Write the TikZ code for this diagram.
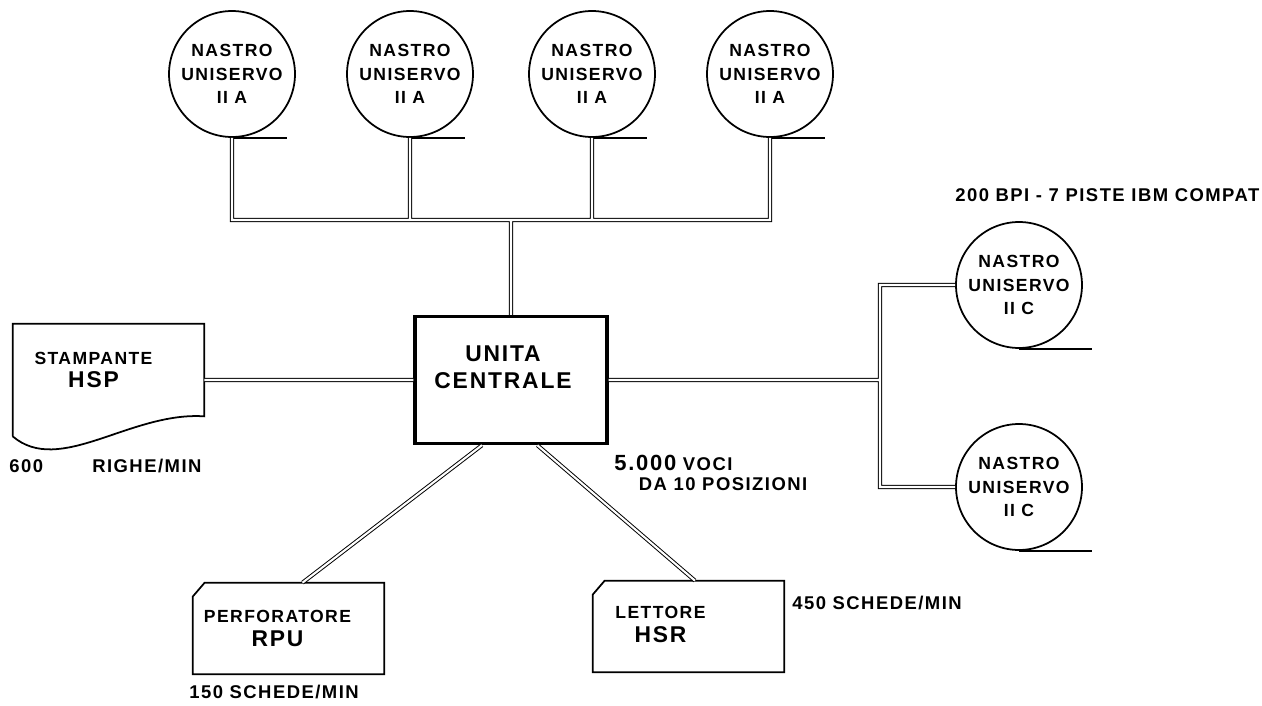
\documentclass[tikz,border=0pt]{standalone}
\usepackage{fontspec}
\setmainfont{Liberation Sans}
\newfontfamily\tagfont[LetterSpace=8]{Liberation Sans}
\newfontfamily\notefont[LetterSpace=8]{Liberation Sans}
\usetikzlibrary{positioning,calc}
\newcommand{\devname}[1]{{\fontsize{13}{15}\selectfont #1}}

\begin{document}
\begin{tikzpicture}[x=0.02cm, y=-0.02cm,
  tape/.style={circle, draw, line width=1pt, minimum size=2.52cm, inner sep=0pt},
  cpubox/.style={draw, line width=2pt, minimum width=3.84cm, minimum height=2.54cm},
  card/.style={minimum width=3.82cm, minimum height=1.82cm, inner sep=0pt},
  printer/.style={minimum width=3.82cm, minimum height=2.24cm, inner sep=0pt},
  tag/.style={font=\tagfont\bfseries\fontsize{10}{13.5}\selectfont, align=center, inner sep=0pt},
  bigtag/.style={font=\tagfont\bfseries\fontsize{13}{15.5}\selectfont, align=center, inner sep=0pt},
  note/.style={font=\notefont\bfseries\fontsize{10.5}{11.5}\selectfont, align=left, inner sep=0pt, anchor=west},
  link/.style={double, double distance=1.2pt, line width=0.55pt},
  reel/.style={line width=1pt}
]
  \useasboundingbox (0,0) rectangle (1262,706);

  % nastri
  \foreach \i/\x in {1/232,2/410,3/592,4/770}{
    \node[tape, tag] (ta\i) at (\x,74) {NASTRO\\UNISERVO\\II A};
    \draw[reel] (ta\i.south) -- ++(55,0);
  }
  \node[tape, tag] (tc1) at (1019,285) {NASTRO\\UNISERVO\\II C};
  \node[tape, tag] (tc2) at (1019,487) {NASTRO\\UNISERVO\\II C};
  \draw[reel] (tc1.south) -- ++(73,0);
  \draw[reel] (tc2.south) -- ++(73,0);

  % unita centrale
  \node[cpubox] (cpu) at (511,380) {};
  \node[bigtag] (cpuT) at ($(cpu)+(-8,-13)$) {UNITA\\CENTRALE};

  % stampante
  \node[printer] (hsp) at (108.5,380) {};
  \draw[reel] (hsp.south west) -- (hsp.north west) -- (hsp.north east) -- ($(hsp.south east)+(0,-20)$)
    .. controls ($(hsp.south east)+(-74,-25)$) and ($(hsp.south west)+(47,40)$) .. (hsp.south west);
  \node[tag] (hspT) at ($(hsp)+(-15,-10)$) {STAMPANTE\\\devname{HSP}};

  % schede
  \node[card] (rpu) at (288.5,628.5) {};
  \node[card] (hsr) at (688.5,626.5) {};
  \foreach \c in {rpu,hsr}
    \draw[reel] ($(\c.north west)+(0,14)$) -- ($(\c.north west)+(12,0)$) -- (\c.north east)
      -- (\c.south east) -- (\c.south west) -- cycle;
  \node[tag] (rpuT) at ($(rpu)+(-11,0)$) {PERFORATORE\\\devname{RPU}};
  \node[tag] (hsrT) at ($(hsr)+(-28,-2)$) {LETTORE\\\devname{HSR}};

  % collegamenti
  \coordinate (busT) at (509,220);
  \coordinate (busR) at (880,380);
  \draw[link] (ta1.south) |- (ta4.south |- busT) -- (ta4.south)
    (ta2.south) -- (ta2.south |- busT)
    (ta3.south) -- (ta3.south |- busT)
    (cpu.north |- busT) -- (cpu.north)
    (hsp.east) -- (cpu.west)
    (cpu.east) -- (cpu.east -| busR)
    (tc1.west) -- (tc1.west -| busR) -- (tc2.west -| busR) -- (tc2.west)
    (rpu.73) -- (cpu.246)
    (hsr.82) -- (cpu.292);

  % note
  \node[note] (bpi) at (955,195) {200 BPI - 7 PISTE\ IBM COMPAT};
  \node[note] (rig) at (9,466) {600\hspace{28pt}RIGHE/MIN};
  \node[note] (voci) at (614,473) {{\fontsize{12.5}{12}\selectfont 5.000} VOCI\\\hspace{14pt}DA 10 POSIZIONI};
  \node[note] (s450) at (792,603) {450 SCHEDE/MIN};
  \node[note] (s150) at (189,692) {150 SCHEDE/MIN};
\end{tikzpicture}
\end{document}
